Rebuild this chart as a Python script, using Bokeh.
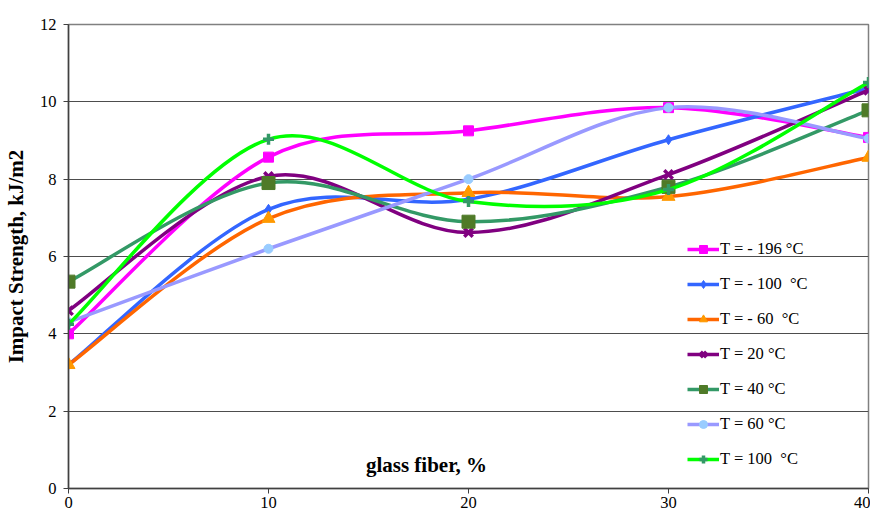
from bokeh.plotting import figure
from bokeh.models import ColumnDataSource, Legend, LegendItem, Label, FixedTicker, Range1d
from bokeh.embed import file_html
from bokeh.resources import INLINE

fiber = [0, 10, 20, 30, 40]
t_m196 = [4.0, 8.57, 9.25, 9.85, 9.08]
t_m100 = [3.2, 7.22, 7.48, 9.02, 10.35]
t_m60 = [3.2, 6.98, 7.65, 7.55, 8.56]
t_20 = [4.6, 8.07, 6.62, 8.12, 10.3]
t_40 = [5.35, 7.9, 6.9, 7.8, 9.78]
t_60 = [4.3, 6.2, 8.0, 9.85, 9.05]
t_100 = [4.25, 9.03, 7.42, 7.73, 10.5]

series = [t_m196, t_m100, t_m60, t_20, t_40, t_60, t_100]
labels = ["T = - 196 \u00b0C", "T = - 100  \u00b0C", "T = - 60  \u00b0C", "T = 20 \u00b0C",
          "T = 40 \u00b0C", "T = 60 \u00b0C", "T = 100  \u00b0C"]
x_ticks = [0, 10, 20, 30, 40]
y_ticks = [0, 2, 4, 6, 8, 10, 12]

line_colors = ["#ff00ff", "#3366ff", "#ff6600", "#800080", "#339966", "#9999ff", "#00ff00"]
marker_fill = ["#ff00ff", "#3366ff", "#ff9900", "#800080", "#4f7a28", "#99ccff", "#339966"]
markers = ["square", "diamond", "triangle", "x", "square", "circle", "cross"]
msizes = [10, 10, 13, 12, 13, 9, 11]

FONT = "Liberation Serif"


def smooth(xs, ys):
    n = len(xs)
    d = dict(x0=[], y0=[], x1=[], y1=[], cx0=[], cy0=[], cx1=[], cy1=[])
    for i in range(n - 1):
        pa = i - 1 if i > 0 else i
        pb = i + 2 if i + 2 < n else i + 1
        d["x0"].append(xs[i]); d["y0"].append(ys[i])
        d["x1"].append(xs[i + 1]); d["y1"].append(ys[i + 1])
        d["cx0"].append(xs[i] + (xs[i + 1] - xs[pa]) / 6.0)
        d["cy0"].append(ys[i] + (ys[i + 1] - ys[pa]) / 6.0)
        d["cx1"].append(xs[i + 1] - (xs[pb] - xs[i]) / 6.0)
        d["cy1"].append(ys[i + 1] - (ys[pb] - ys[i]) / 6.0)
    return d


p = figure(width=870, height=515, output_backend="svg", toolbar_location=None,
           x_range=Range1d(0, 40), y_range=Range1d(0, 12),
           min_border_left=67, min_border_right=2, min_border_top=24, min_border_bottom=27)
p.background_fill_color = "#ffffff"
p.border_fill_color = "#ffffff"
p.outline_line_color = "#808080"
p.outline_line_width = 1.5

p.xgrid.grid_line_color = None
p.ygrid.grid_line_color = "#4d4d4d"
p.ygrid.grid_line_width = 1

p.xaxis.ticker = FixedTicker(ticks=x_ticks)
p.yaxis.ticker = FixedTicker(ticks=y_ticks)
for ax in (p.xaxis[0], p.yaxis[0]):
    ax.axis_line_color = "#404040"
    ax.axis_line_width = 1.5
    ax.major_tick_line_color = "#404040"
    ax.major_tick_in = 0
    ax.major_tick_out = 5
    ax.minor_tick_line_color = None
    ax.major_label_text_font = FONT
    ax.major_label_text_font_size = "16.5px"
    ax.major_label_text_color = "#000000"
p.xaxis.major_label_standoff = 3
p.yaxis.major_label_standoff = 7
p.yaxis.axis_label = "Impact Strength, kJ/m2"
p.yaxis.axis_label_text_font = FONT
p.yaxis.axis_label_text_font_style = "bold"
p.yaxis.axis_label_text_font_size = "21px"
p.yaxis.axis_label_text_color = "#000000"
p.yaxis.axis_label_standoff = 9

items = []
for ys, lab, lc, mf, mk, ms in zip(series, labels, line_colors, marker_fill, markers, msizes):
    src = ColumnDataSource(smooth(fiber, ys))
    r1 = p.bezier(x0="x0", y0="y0", x1="x1", y1="y1", cx0="cx0", cy0="cy0", cx1="cx1", cy1="cy1",
                  source=src, line_color=lc, line_width=3.5)
    if mk in ("x", "cross"):
        r2 = p.scatter(fiber, ys, marker=mk, size=ms, line_color=mf, line_width=3.5)
    else:
        r2 = p.scatter(fiber, ys, marker=mk, size=ms, fill_color=mf, line_color=mf)
    items.append(LegendItem(label=lab, renderers=[r1, r2]))

legend = Legend(items=items, location=(619, 19), orientation="vertical",
                background_fill_alpha=0, border_line_color=None,
                padding=0, margin=0, spacing=15, glyph_width=32, glyph_height=20,
                label_height=20, label_standoff=1,
                label_text_font=FONT, label_text_font_size="16.5px", label_text_color="#000000")
p.add_layout(legend)

p.add_layout(Label(x=17.9, y=0.6, text="glass fiber, %", text_font=FONT, text_font_style="bold",
                   text_font_size="21px", text_align="center", text_baseline="middle",
                   text_color="#000000"))

open("out.html", "w").write(file_html(p, INLINE))
